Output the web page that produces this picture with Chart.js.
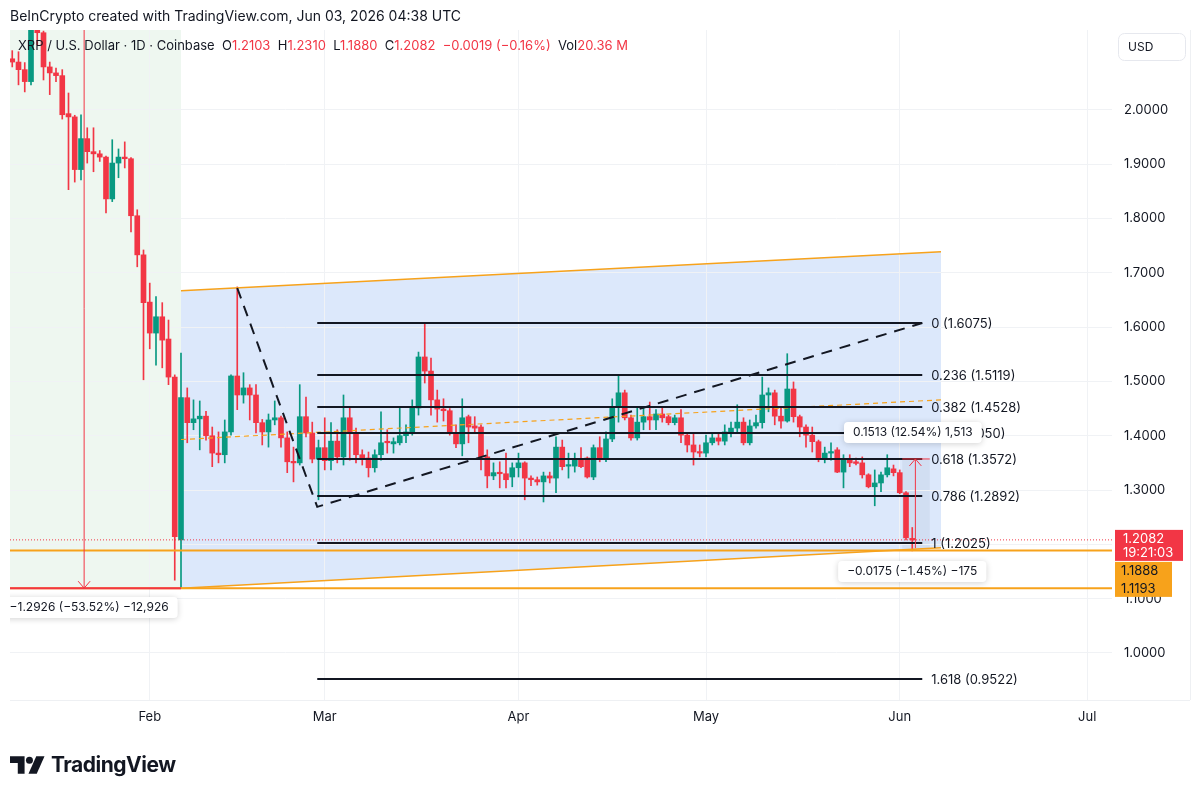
<!DOCTYPE html>
<html>
<head>
<meta charset="utf-8">
<script src="https://cdn.jsdelivr.net/npm/chart.js@4.4.1/dist/chart.umd.min.js"></script>
<style>
  body { margin: 0; background: #fff; font-family: Inter, "Noto Sans", sans-serif; color: #131722; }
  #wrap { position: relative; width: 1200px; height: 795px; overflow: hidden; }
  #chart { position: absolute; left: 0; top: 0; }
  .title { position: absolute; left: 10px; top: 7px; font-size: 14px; }
  .legend { position: absolute; left: 18px; top: 37px; font-size: 13px; white-space: pre; }
  .legend .v { color: #f23645; }
  .logo { position: absolute; left: 10px; top: 752px; display: flex; align-items: center; gap: 6px; font-weight: 700; font-size: 21px; letter-spacing: -0.5px; }
</style>
</head>
<body>
<div id="wrap">
  <canvas id="chart" width="1200" height="795"></canvas>
  <div class="title">BeInCrypto created with TradingView.com, Jun 03, 2026 04:38 UTC</div>
  <div class="legend">XRP / U.S. Dollar · 1D · Coinbase  O<span class="v">1.2103</span>  H<span class="v">1.2310</span>  L<span class="v">1.1880</span>  C<span class="v">1.2082</span>  <span class="v">−0.0019 (−0.16%)</span>  Vol<span class="v">20.36 M</span></div>
  <div class="logo">
    <svg width="35" height="20" viewBox="0 0 36 20"><path d="M0 1h15v18h-7v-11h-8z" fill="#131722"/><circle cx="20" cy="5" r="3.6" fill="#131722"/><path d="M27 1h8.5l-8 18h-8.5z" fill="#131722"/></svg>
    <span>TradingView</span>
  </div>
</div>
<script>
// day index: Jan 1 2026 = 0, first candle = Jan 10
const firstDay = 9;

const opens = [2.094, 2.088, 2.074, 2.052, 2.150, 2.142, 2.079, 2.068, 2.063, 1.993, 1.987, 1.890, 1.947, 1.923, 1.919, 1.913, 1.836, 1.902, 1.913, 1.910, 1.805, 1.733, 1.646, 1.589, 1.619, 1.578, 1.508,
  1.208, 1.470, 1.424, 1.431, 1.436, 1.400, 1.368, 1.365, 1.407, 1.510, 1.475, 1.488, 1.475, 1.424, 1.407, 1.429, 1.433, 1.396, 1.352, 1.350,
  1.435, 1.405, 1.357, 1.378, 1.354, 1.390, 1.361, 1.433, 1.405, 1.365, 1.359, 1.341, 1.365, 1.389, 1.385, 1.387, 1.400, 1.407, 1.451, 1.545,
  1.519, 1.466, 1.449, 1.446, 1.405, 1.385, 1.435, 1.418, 1.416, 1.361, 1.326, 1.332, 1.330, 1.324, 1.341, 1.350, 1.322, 1.319, 1.315, 1.326,
  1.322, 1.379, 1.344, 1.344, 1.355, 1.359, 1.324, 1.378, 1.359, 1.394, 1.453, 1.479, 1.433, 1.396, 1.425, 1.435, 1.429, 1.440, 1.435, 1.424,
  1.433, 1.401, 1.383, 1.370, 1.368, 1.387, 1.396, 1.390, 1.407, 1.414, 1.425, 1.387, 1.418, 1.424, 1.475, 1.479, 1.436, 1.427, 1.486, 1.435,
  1.416, 1.401, 1.389, 1.359, 1.368, 1.374, 1.333, 1.357, 1.352, 1.350, 1.328, 1.306, 1.313, 1.328, 1.339, 1.332, 1.295, 1.2103];
const highs = [2.109, 2.107, 2.087, 2.170, 2.170, 2.145, 2.088, 2.077, 2.074, 2.031, 1.990, 1.991, 1.967, 1.967, 1.925, 1.915, 1.945, 1.928, 1.941, 1.912, 1.816, 1.742, 1.681, 1.656, 1.645, 1.613, 1.512,
  1.552, 1.488, 1.466, 1.464, 1.445, 1.416, 1.407, 1.429, 1.512, 1.674, 1.516, 1.494, 1.494, 1.430, 1.440, 1.464, 1.436, 1.407, 1.379, 1.494,
  1.471, 1.425, 1.392, 1.433, 1.424, 1.411, 1.475, 1.453, 1.414, 1.374, 1.370, 1.374, 1.444, 1.411, 1.396, 1.453, 1.420, 1.466, 1.554, 1.6075,
  1.543, 1.484, 1.468, 1.450, 1.420, 1.468, 1.438, 1.435, 1.420, 1.374, 1.350, 1.352, 1.368, 1.350, 1.368, 1.352, 1.326, 1.324, 1.333, 1.333,
  1.398, 1.392, 1.368, 1.368, 1.378, 1.361, 1.383, 1.398, 1.407, 1.468, 1.510, 1.484, 1.438, 1.451, 1.451, 1.462, 1.448, 1.451, 1.438, 1.438,
  1.448, 1.405, 1.405, 1.383, 1.401, 1.405, 1.405, 1.420, 1.425, 1.457, 1.433, 1.429, 1.438, 1.508, 1.488, 1.484, 1.453, 1.551, 1.499, 1.438,
  1.420, 1.416, 1.392, 1.379, 1.387, 1.378, 1.365, 1.365, 1.359, 1.361, 1.330, 1.337, 1.333, 1.365, 1.346, 1.337, 1.297, 1.2310];
const lows = [2.079, 2.046, 2.033, 2.046, 2.120, 2.055, 2.028, 2.052, 1.983, 1.853, 1.867, 1.871, 1.902, 1.886, 1.905, 1.810, 1.831, 1.875, 1.893, 1.775, 1.711, 1.503, 1.560, 1.530, 1.525, 1.494, 1.134,
  1.1193, 1.387, 1.411, 1.374, 1.392, 1.343, 1.350, 1.350, 1.401, 1.448, 1.460, 1.429, 1.405, 1.383, 1.379, 1.420, 1.379, 1.332, 1.315, 1.346,
  1.398, 1.350, 1.282, 1.337, 1.337, 1.350, 1.346, 1.355, 1.350, 1.346, 1.324, 1.333, 1.355, 1.368, 1.368, 1.383, 1.387, 1.401, 1.438, 1.497,
  1.438, 1.425, 1.427, 1.401, 1.378, 1.363, 1.387, 1.405, 1.337, 1.304, 1.319, 1.304, 1.304, 1.306, 1.324, 1.282, 1.308, 1.309, 1.278, 1.313,
  1.295, 1.337, 1.322, 1.333, 1.341, 1.322, 1.319, 1.352, 1.352, 1.389, 1.425, 1.429, 1.392, 1.392, 1.411, 1.411, 1.411, 1.425, 1.420, 1.420,
  1.387, 1.370, 1.346, 1.361, 1.361, 1.383, 1.383, 1.383, 1.398, 1.407, 1.383, 1.383, 1.414, 1.414, 1.444, 1.420, 1.414, 1.425, 1.425, 1.398,
  1.379, 1.370, 1.352, 1.350, 1.355, 1.332, 1.304, 1.343, 1.346, 1.322, 1.304, 1.271, 1.297, 1.324, 1.326, 1.293, 1.208, 1.1880];
const closes = [2.088, 2.074, 2.052, 2.150, 2.142, 2.079, 2.068, 2.063, 1.991, 1.987, 1.890, 1.947, 1.923, 1.919, 1.913, 1.836, 1.902, 1.913, 1.910, 1.805, 1.733, 1.645, 1.589, 1.619, 1.576, 1.508, 1.214,
  1.470, 1.424, 1.431, 1.436, 1.400, 1.368, 1.365, 1.407, 1.510, 1.475, 1.488, 1.475, 1.424, 1.407, 1.429, 1.433, 1.396, 1.352, 1.350, 1.435,
  1.405, 1.357, 1.378, 1.354, 1.390, 1.361, 1.433, 1.405, 1.365, 1.359, 1.341, 1.365, 1.387, 1.387, 1.389, 1.400, 1.407, 1.451, 1.545, 1.519,
  1.466, 1.449, 1.446, 1.405, 1.385, 1.433, 1.416, 1.414, 1.361, 1.326, 1.332, 1.330, 1.319, 1.341, 1.350, 1.322, 1.319, 1.315, 1.326, 1.322,
  1.379, 1.343, 1.346, 1.355, 1.343, 1.324, 1.378, 1.359, 1.394, 1.453, 1.479, 1.433, 1.396, 1.425, 1.435, 1.429, 1.440, 1.433, 1.424, 1.433,
  1.401, 1.383, 1.370, 1.368, 1.387, 1.396, 1.390, 1.407, 1.414, 1.425, 1.387, 1.418, 1.424, 1.475, 1.479, 1.436, 1.427, 1.486, 1.435, 1.416,
  1.401, 1.389, 1.359, 1.368, 1.370, 1.333, 1.357, 1.350, 1.349, 1.328, 1.306, 1.313, 1.328, 1.341, 1.332, 1.295, 1.212, 1.2082];

const days = opens.map((_, i) => firstDay + i);

const monthTicks = [31, 59, 90, 120, 151, 181];
const monthLabels = ["Feb", "Mar", "Apr", "May", "Jun", "Jul"];
const priceTicks = [1.0, 1.1, 1.2, 1.3, 1.4, 1.5, 1.6, 1.7, 1.8, 1.9, 2.0];

// drawings (day, price)
const zoneEndDay = 36;
const lowLevel = 1.1193;
const supportLevel = 1.1888;
const lastPrice = 1.2082;
const channelDays = [36, 157.6];
const channelUpper = [1.6667, 1.7385];
const channelLower = [1.1193, 1.1937];
const zigDays = [45, 57.8, 154.6];
const zigPrices = [1.672, 1.269, 1.6075];
const fibDays = [57.8, 154.6];
const fibLevels = ["0", "0.236", "0.382", "0.5", "0.618", "0.786", "1", "1.618"];
const fibPrices = [1.6075, 1.5119, 1.4528, 1.4050, 1.3572, 1.2892, 1.2025, 0.9522];
const dropMeasure = { day: 20.5, from: 2.4119, to: 1.1193, text: "−1.2926 (−53.52%) −12,926", labelDay: 21.3, labelPrice: 1.0847 };
const bounceMeasure = { day: 153.5, from: 1.1930, to: 1.3572, left: 151.4, right: 155.8, text: "0.1513 (12.54%) 1,513", labelDay: 153.1, labelPrice: 1.4070 };
const dipLabel = { text: "−0.0175 (−1.45%) −175", day: 153.0, price: 1.1510 };

const UP = "#089981";
const DOWN = "#f23645";
const ORANGE = "#f7a21b";
const candleColors = opens.map((o, i) => (closes[i] >= o ? UP : DOWN));

const labelBox = (ctx, text, cx, cy) => {
  ctx.font = "12px Inter, 'Noto Sans', sans-serif";
  const w = ctx.measureText(text).width + 18;
  ctx.save();
  ctx.shadowColor = "rgba(0,0,0,0.18)";
  ctx.shadowBlur = 6;
  ctx.shadowOffsetY = 1;
  ctx.fillStyle = "#fff";
  ctx.beginPath();
  ctx.roundRect(cx - w / 2, cy - 10, w, 21, 4);
  ctx.fill();
  ctx.restore();
  ctx.fillStyle = "#131722";
  ctx.textAlign = "center";
  ctx.textBaseline = "middle";
  ctx.fillText(text, cx, cy + 0.5);
};

const line = (ctx, pts, color, width, dash) => {
  ctx.save();
  ctx.strokeStyle = color;
  ctx.lineWidth = width;
  ctx.setLineDash(dash || []);
  ctx.beginPath();
  pts.forEach((p, i) => (i ? ctx.lineTo(p[0], p[1]) : ctx.moveTo(p[0], p[1])));
  ctx.stroke();
  ctx.restore();
};

const drawings = {
  id: "drawings",
  beforeDraw(chart) {
    const { ctx, chartArea: a, scales: { x, y } } = chart;
    ctx.save();
    ctx.beginPath();
    ctx.rect(a.left, a.top, a.right - a.left, a.bottom - a.top);
    ctx.clip();
    ctx.fillStyle = "#eef7f0";
    ctx.fillRect(a.left, a.top, x.getPixelForValue(zoneEndDay) - a.left, y.getPixelForValue(lowLevel) - a.top);
    ctx.fillStyle = "#dce8fb";
    ctx.beginPath();
    ctx.moveTo(x.getPixelForValue(channelDays[0]), y.getPixelForValue(channelUpper[0]));
    ctx.lineTo(x.getPixelForValue(channelDays[1]), y.getPixelForValue(channelUpper[1]));
    ctx.lineTo(x.getPixelForValue(channelDays[1]), y.getPixelForValue(channelLower[1]));
    ctx.lineTo(x.getPixelForValue(channelDays[0]), y.getPixelForValue(channelLower[0]));
    ctx.closePath();
    ctx.fill();
    ctx.fillStyle = "rgba(90,110,140,0.08)";
    const bx = x.getPixelForValue(bounceMeasure.left);
    const by = y.getPixelForValue(bounceMeasure.to);
    ctx.fillRect(bx, by, x.getPixelForValue(bounceMeasure.right) - bx, y.getPixelForValue(supportLevel) - by);
    ctx.restore();
  },
  afterDatasetsDraw(chart) {
    const { ctx, chartArea: a, scales: { x, y } } = chart;
    const P = (d, v) => [x.getPixelForValue(d), y.getPixelForValue(v)];
    ctx.save();
    ctx.beginPath();
    ctx.rect(a.left, a.top, a.right - a.left, a.bottom - a.top);
    ctx.clip();

    // channel
    line(ctx, [P(channelDays[0], channelUpper[0]), P(channelDays[1], channelUpper[1])], ORANGE, 1.5);
    line(ctx, [P(channelDays[0], channelLower[0]), P(channelDays[1], channelLower[1])], ORANGE, 1.5);
    line(ctx, [P(channelDays[0], (channelUpper[0] + channelLower[0]) / 2), P(channelDays[1], (channelUpper[1] + channelLower[1]) / 2)], ORANGE, 1.2, [5, 4]);

    // horizontal levels
    [supportLevel, lowLevel].forEach((v) => line(ctx, [[a.left, y.getPixelForValue(v)], [a.right, y.getPixelForValue(v)]], ORANGE, 2));
    line(ctx, [[a.left, y.getPixelForValue(lastPrice)], [a.right, y.getPixelForValue(lastPrice)]], DOWN, 1, [1, 2]);

    // fib retracement
    ctx.font = "13px Inter, 'Noto Sans', sans-serif";
    fibPrices.forEach((v, i) => {
      line(ctx, [P(fibDays[0], v), P(fibDays[1], v)], "#131722", 2);
      ctx.fillStyle = "#131722";
      ctx.textAlign = "left";
      ctx.textBaseline = "middle";
      ctx.fillText(fibLevels[i] + " (" + v.toFixed(4) + ")", x.getPixelForValue(fibDays[1]) + 9, y.getPixelForValue(v) + 1);
    });
    line(ctx, zigDays.map((d, i) => P(d, zigPrices[i])), "#131722", 2, [11, 8]);

    // drop measure
    const dx = x.getPixelForValue(dropMeasure.day);
    const dy = y.getPixelForValue(dropMeasure.to);
    line(ctx, [P(dropMeasure.day, dropMeasure.from), [dx, dy]], DOWN, 1);
    line(ctx, [[dx - 6, dy - 7], [dx, dy], [dx + 6, dy - 7]], DOWN, 1);
    line(ctx, [[a.left, dy], [x.getPixelForValue(zoneEndDay), dy]], DOWN, 2);

    // bounce measure
    const ux = x.getPixelForValue(bounceMeasure.day);
    const uy = y.getPixelForValue(bounceMeasure.to);
    line(ctx, [P(bounceMeasure.day, bounceMeasure.from), [ux, uy]], DOWN, 1);
    line(ctx, [[ux - 6, uy + 7], [ux, uy], [ux + 6, uy + 7]], DOWN, 1);
    line(ctx, [P(bounceMeasure.left, bounceMeasure.to), P(bounceMeasure.right, bounceMeasure.to)], DOWN, 1);

    labelBox(ctx, dropMeasure.text, ...P(dropMeasure.labelDay, dropMeasure.labelPrice));
    labelBox(ctx, bounceMeasure.text, ...P(bounceMeasure.labelDay, bounceMeasure.labelPrice));
    labelBox(ctx, dipLabel.text, ...P(dipLabel.day, dipLabel.price));
    ctx.restore();
  },
  afterDraw(chart) {
    const { ctx, chartArea: a, scales: { y } } = chart;
    ctx.save();
    // frame lines
    line(ctx, [[a.left, a.bottom + 0.5], [a.right + 78, a.bottom + 0.5]], "#eef0f3", 1);
    line(ctx, [[a.right + 78.5, a.top], [a.right + 78.5, a.bottom]], "#eef0f3", 1);

    // USD box
    ctx.fillStyle = "#fff";
    ctx.strokeStyle = "#e6e8ee";
    ctx.beginPath();
    ctx.roundRect(a.right + 6.5, 33.5, 67, 27, 6);
    ctx.fill();
    ctx.stroke();
    ctx.fillStyle = "#131722";
    ctx.font = "12px Inter, 'Noto Sans', sans-serif";
    ctx.textAlign = "left";
    ctx.textBaseline = "middle";
    ctx.fillText("USD", a.right + 16, 47);

    // price labels
    const ly = y.getPixelForValue(lastPrice);
    ctx.fillStyle = DOWN;
    ctx.fillRect(a.right + 3, ly - 10, 68, 31);
    ctx.fillStyle = ORANGE;
    ctx.fillRect(a.right + 3, ly + 22, 57, 35);
    ctx.font = "13px Inter, 'Noto Sans', sans-serif";
    ctx.fillStyle = "#fff";
    ctx.fillText(lastPrice.toFixed(4), a.right + 11, ly - 1);
    ctx.fillText("19:21:03", a.right + 11, ly + 13);
    ctx.fillStyle = "#131722";
    ctx.fillText(supportLevel.toFixed(4), a.right + 9, ly + 31);
    ctx.fillText(lowLevel.toFixed(4), a.right + 9, y.getPixelForValue(lowLevel) + 1);
    ctx.restore();
  },
};

Chart.defaults.font.family = "Inter, 'Noto Sans', sans-serif";
Chart.defaults.color = "#131722";

const ctx = document.getElementById("chart");

const config = {
  type: "bar",
  data: {
    datasets: [
      {
        label: "wick",
        data: days.map((d, i) => ({ x: d, y: [lows[i], highs[i]] })),
        backgroundColor: candleColors,
        barThickness: 1,
        grouped: false,
        order: 2,
      },
      {
        label: "body",
        data: days.map((d, i) => ({ x: d, y: [opens[i], closes[i]] })),
        backgroundColor: candleColors,
        barThickness: 5,
        minBarLength: 1.5,
        grouped: false,
        order: 1,
      },
    ],
  },
  options: {
    responsive: false,
    devicePixelRatio: 1,
    animation: false,
    layout: { padding: { left: 10, top: 30, right: 10, bottom: 64 } },
    plugins: { legend: { display: false }, tooltip: { enabled: false } },
    scales: {
      x: {
        type: "linear",
        min: 8.64,
        max: 184.96,
        offset: false,
        afterBuildTicks: (s) => { s.ticks = monthTicks.map((v) => ({ value: v })); },
        afterFit: (s) => { s.height = 31; },
        ticks: { callback: (v) => monthLabels[monthTicks.indexOf(v)], font: { size: 13 }, padding: 9, maxRotation: 0, autoSkip: false },
        grid: { color: "#f0f2f5", drawTicks: false, offset: false },
        border: { display: false },
      },
      y: {
        position: "right",
        min: 0.9134,
        max: 2.147,
        afterBuildTicks: (s) => { s.ticks = priceTicks.map((v) => ({ value: v })); },
        afterFit: (s) => { s.width = 78; },
        ticks: { callback: (v) => v.toFixed(4), font: { size: 13 }, padding: 12 },
        grid: { color: "#f0f2f5", drawTicks: false },
        border: { display: false },
      },
    },
  },
  plugins: [drawings],
};

new Chart(ctx, config);
</script>
</body>
</html>
